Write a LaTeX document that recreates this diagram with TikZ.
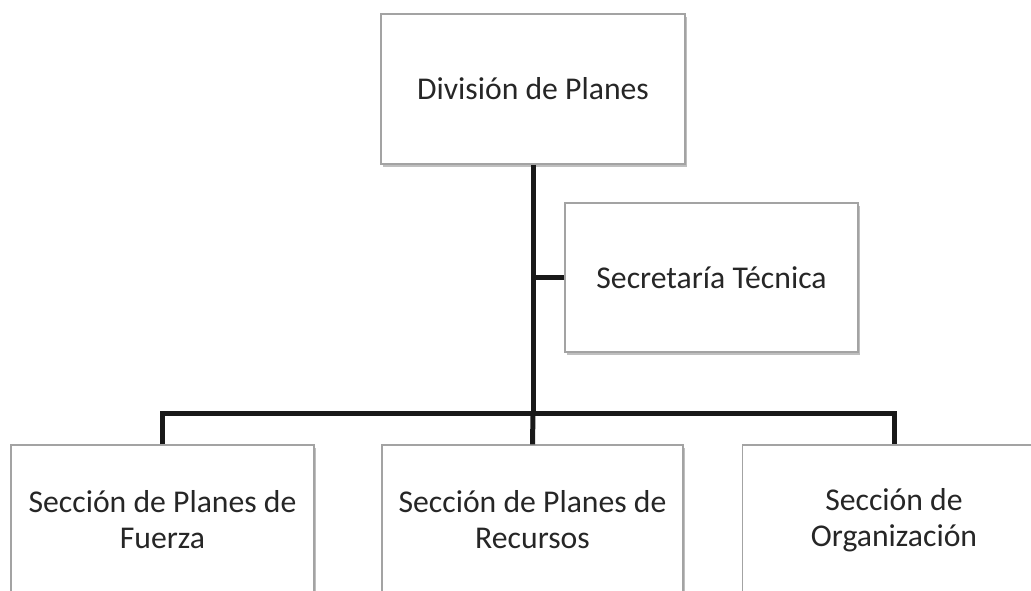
\documentclass[tikz,border=0pt]{standalone}
\usepackage{fontspec}
\setmainfont{Carlito}
\usetikzlibrary{positioning, shadows}

\definecolor{boxline}{HTML}{A3A3A3}
\definecolor{boxtext}{HTML}{262626}

\begin{document}
\begin{tikzpicture}[x=1pt, y=-1pt,
  box/.style={draw=boxline, line width=1.4pt, fill=white, text=boxtext,
    align=center, minimum width=303pt, minimum height=150pt, inner sep=0pt,
    font=\fontsize{31.7}{36}\selectfont,
    drop shadow={shadow xshift=1.5pt, shadow yshift=-2.5pt, opacity=0.25, fill=black}},
  conn/.style={line width=5pt, draw=black!90, line join=miter}]
  % --- Frame (bottom row runs off the page)
  \useasboundingbox (0,0) rectangle (1031,590);
  \clip (0,0) rectangle (1031,590);

  % --- Boxes
  \node[box, minimum width=304pt] (plans) at (533,89) {División de Planes};
  \node[box, minimum width=293pt, minimum height=149pt] (sec) at (711.5,277.5) {Secretaría Técnica};
  \node[box] (fuerza)   at (162.5,520) {Sección de Planes de\\Fuerza};
  \node[box, minimum width=301pt] (recursos) at (532.5,520) {Sección de Planes de\\Recursos};
  \node[box] (org)      at (894,520) {Sección de\\Organización};

  % --- Connectors
  \coordinate (bus) at (533,413);
  \draw[conn] (plans.south) -- (bus);
  \draw[conn] (sec.west) -- (sec.west -| plans.south);
  \draw[conn] (fuerza.north) |- (bus) -| (org.north);
  \draw[conn] (bus) -- (recursos.north);
\end{tikzpicture}
\end{document}
